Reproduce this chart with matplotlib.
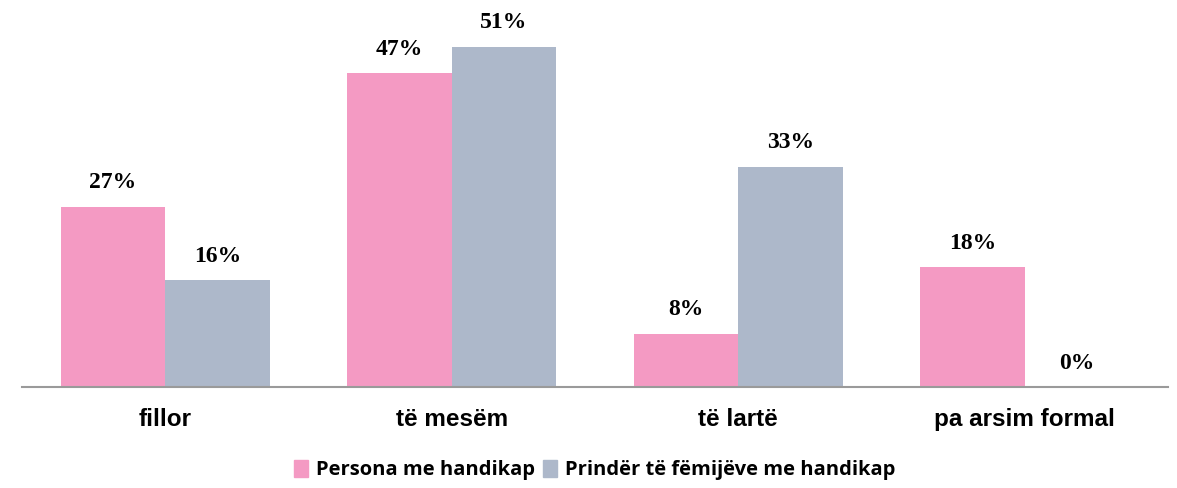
import matplotlib
matplotlib.use("Agg")
import matplotlib.pyplot as plt
import numpy as np
from matplotlib.patches import Patch

categories = ["fillor", "të mesëm", "të lartë", "pa arsim formal"]
series_names = ["Persona me handikap", "Prindër të fëmijëve me handikap"]
persona = [27, 47, 8, 18]
prinder = [16, 51, 33, 0]
colors = ["#F49AC3", "#ADB8CA"]

fig = plt.figure(figsize=(11.77, 4.88), dpi=100)
ax = fig.add_axes([22/1177, 101/488, 1146/1177, 387/488])
x = np.arange(len(categories))
w = 0.364
for vals, off, c in [(persona, -w/2, colors[0]), (prinder, w/2, colors[1])]:
    ax.bar(x + off, vals, width=w, color=c)
    for xi, v in zip(x, vals):
        ax.text(xi + off, v + 2.0, f"{v}%", ha="center", va="bottom",
                fontfamily="Liberation Serif", fontweight="bold", fontsize=17)
ax.set_xlim(-0.5, 3.5)
ax.set_ylim(0, 58)
for s in ["top", "right", "left"]:
    ax.spines[s].set_visible(False)
ax.spines["bottom"].set_color("#9a9a9a")
ax.spines["bottom"].set_linewidth(1.5)
ax.set_yticks([])
ax.set_xticks(x)
ax.set_xticklabels(categories, fontfamily="Liberation Sans", fontweight="bold", fontsize=17.5)
ax.tick_params(axis="x", length=0, pad=15)

handles = [Patch(color=c) for c in colors]
fig.legend(handles, series_names, loc="center", bbox_to_anchor=(595/1177, 1 - 470/488),
           ncol=2, frameon=False, prop={"family": "Open Sans", "weight": "bold", "size": 14.5},
           handlelength=0.7, handleheight=0.9, handletextpad=0.4, columnspacing=0.4)
fig.savefig("out.png", dpi=100)
